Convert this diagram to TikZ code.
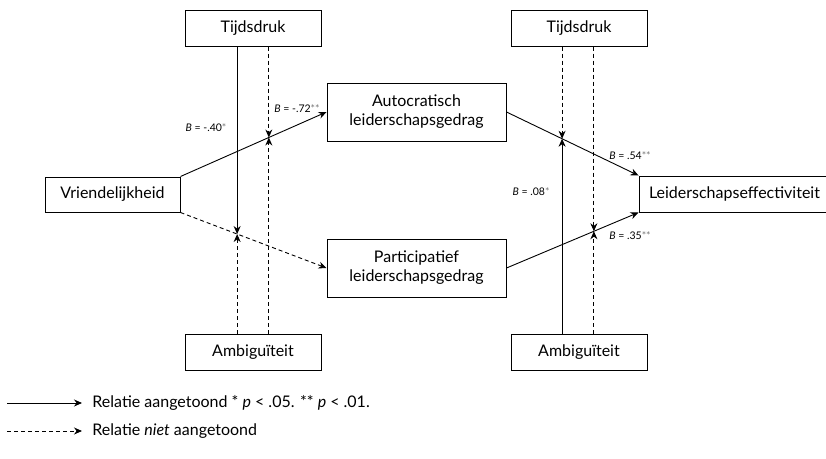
\documentclass[tikz,border=0pt]{standalone}
\usepackage{fontspec}
\setmainfont{Lato}
\usetikzlibrary{arrows.meta}
\newcommand{\ster}[1]{\textcolor{black!55}{#1}}

\begin{document}
\begin{tikzpicture}[x=1pt,y=-1pt,
	>={Stealth[length=8pt,width=7pt]},
	line width=0.9pt,
	box/.style={draw,line width=1pt,minimum width=136pt,minimum height=36pt,inner sep=2pt,font=\fontsize{16}{19}\selectfont},
	bigbox/.style={box,minimum width=179pt,minimum height=58pt,align=center},
	coef/.style={inner sep=0pt,font=\fontsize{10.5}{12}\selectfont},
	legtext/.style={anchor=west,inner sep=0pt,font=\fontsize{16}{19}\selectfont},
	niet/.style={dash pattern=on 4pt off 3pt}]
	\useasboundingbox (0,0) rectangle (826,458);

	\node[box] (tijdL) at (253,28) {Tijdsdruk};
	\node[box] (ambL) at (253,352) {Ambiguïteit};
	\node[box] (tijdR) at (579,28) {Tijdsdruk};
	\node[box] (ambR) at (579,352) {Ambiguïteit};
	\node[box,minimum width=135pt,minimum height=35pt] (vriend) at (112.5,194.5) {Vriendelijkheid};
	\node[bigbox] (autocr) at (416.5,112) {Autocratisch\\leiderschapsgedrag};
	\node[bigbox] (partic) at (416.5,268) {Participatief\\leiderschapsgedrag};
	\node[box,minimum width=191pt] (leid) at (734.5,194) {Leiderschapseffectiviteit};

	\draw[->] (vriend.north east) -- coordinate[pos=0.605] (aT) (autocr.west);
	\draw[->,niet] (vriend.south east) -- coordinate[pos=0.388] (bT) (partic.west);
	\draw[->] (autocr.east) -- coordinate[pos=0.421] (cT) (leid.north west);
	\draw[->] (partic.east) -- coordinate[pos=0.662] (dT) (leid.south west);

	\draw[->] (bT |- tijdL.south) -- (bT);
	\draw[->,niet] (bT |- ambL.north) -- (bT);
	\draw[->,niet] (aT |- tijdL.south) -- (aT);
	\draw[->,niet] (aT |- ambL.north) -- (aT);
	\draw[->,niet] (cT |- tijdR.south) -- (cT);
	\draw[->] (cT |- ambR.north) -- (cT);
	\draw[->,niet] (dT |- tijdR.south) -- (dT);
	\draw[->,niet] (dT |- ambR.north) -- (dT);

	\node[coef] (b40) at (206,128) {\textit{B} = -.40\ster{*}};
	\node[coef] (b72) at (297,109) {\textit{B} = -.72\ster{**}};
	\node[coef] (b54) at (630,156) {\textit{B} = .54\ster{**}};
	\node[coef] (b08) at (531,192) {\textit{B} = .08\ster{*}};
	\node[coef] (b35) at (630,236) {\textit{B} = .35\ster{**}};

	\node[legtext] (leg1) at (92,403) {Relatie aangetoond * \textit{p} < .05. ** \textit{p} < .01.};
	\node[legtext] (leg2) at (92,431) {Relatie \textit{niet} aangetoond};
	\coordinate (l1) at (7,403);
	\coordinate (l2) at (7,431);
	\draw[->] (l1) -- ([xshift=-10pt]leg1.west);
	\draw[->,niet] (l2) -- ([xshift=-10pt]leg2.west);
\end{tikzpicture}
\end{document}
